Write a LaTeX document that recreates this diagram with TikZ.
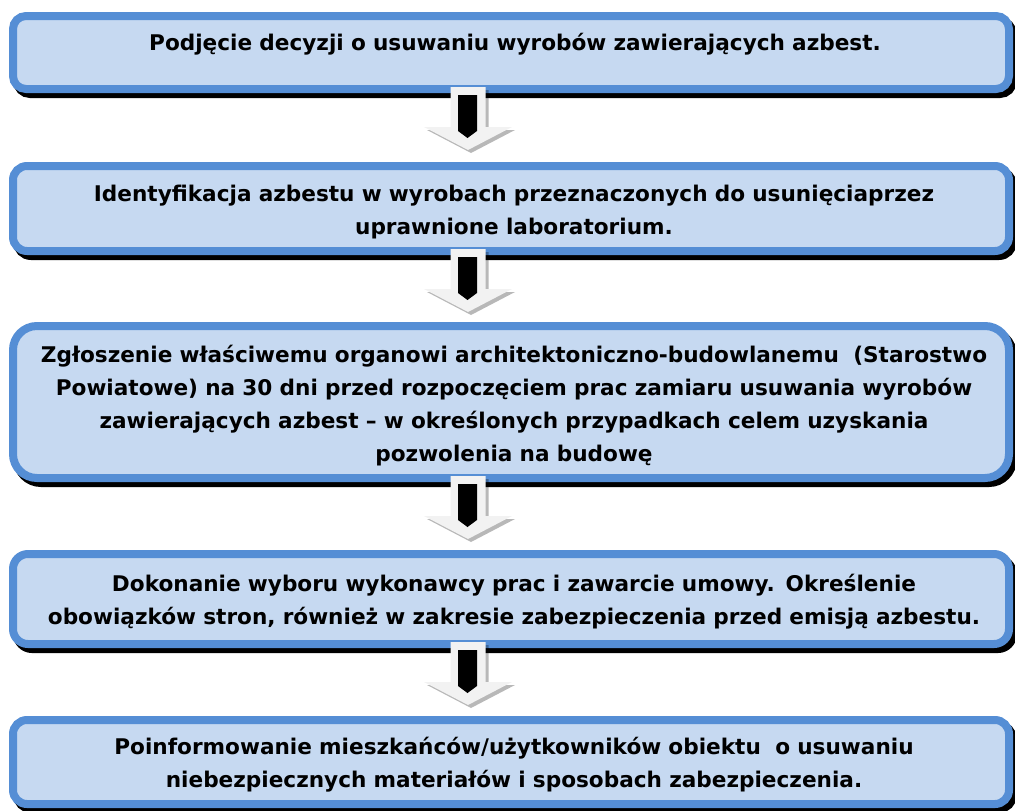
\documentclass[tikz,border=0pt]{standalone}
\usepackage{fontspec}
\setmainfont{DejaVu Sans}
\usetikzlibrary{calc}
\definecolor{boxblue}{HTML}{558ED5}
\definecolor{boxfill}{HTML}{C6D9F1}
\definecolor{arrowfill}{HTML}{F2F2F2}
\tikzset{
  stepbox/.style={rectangle, draw=boxblue, fill=boxfill, line width=8pt,
    minimum width=996pt,
    preaction={draw=black, fill=black, line width=8pt,
      transform canvas={xshift=4pt, yshift=-5pt}}},
  boxtext/.style={align=center, text width=990pt, inner sep=0pt,
    font=\fontsize{21.6}{33}\selectfont\bfseries},
  blockarrow/.pic={
    \fill[black, opacity=0.28] (-15,3) -- (20.5,3) -- (20.5,43) -- (47,43) -- (3,66) -- (-41,43) -- (-15,43) -- cycle;
    \fill[arrowfill] (-17.5,0) -- (17.5,0) -- (17.5,40) -- (44,40) -- (0,63) -- (-44,40) -- (-17.5,40) -- cycle;
    \fill[black] (-10,8) -- (9,8) -- (9,44) -- (-0.5,51) -- (-10,44) -- cycle;
  }
}
\begin{document}
\begin{tikzpicture}[x=1pt, y=-1pt]
\useasboundingbox (0,0) rectangle (1015,811);
\coordinate (ax) at (468,0);
\node[stepbox, minimum height=73pt, rounded corners=13pt] (b1) at (511,52.5) {};
\node[stepbox, minimum height=85pt, rounded corners=14pt] (b2) at (511,208.5) {};
\node[stepbox, minimum height=152pt, rounded corners=24pt] (b3) at (511,402) {};
\node[stepbox, minimum height=90pt, rounded corners=15pt] (b4) at (511,599) {};
\node[stepbox, minimum height=84pt, rounded corners=14pt] (b5) at (511,762) {};
\node[boxtext] (t1) at ($(b1.center)+(4,-8)$)
  {Podjęcie decyzji o usuwaniu wyrobów zawierających azbest.};
\node[boxtext] (t2) at ($(b2.center)+(3,4)$)
  {Identyfikacja azbestu w wyrobach przeznaczonych do usunięciaprzez\\ uprawnione laboratorium.};
\node[boxtext] (t3) at ($(b3.center)+(3,4)$)
  {Zgłoszenie właściwemu organowi architektoniczno-budowlanemu\ \ (Starostwo\\ Powiatowe) na 30 dni przed rozpoczęciem prac zamiaru usuwania wyrobów\\ zawierających azbest – w określonych przypadkach celem uzyskania\\ pozwolenia na budowę};
\node[boxtext] (t4) at ($(b4.center)+(3,3)$)
  {Dokonanie wyboru wykonawcy prac i zawarcie umowy. Określenie\\ obowiązków stron, również w zakresie zabezpieczenia przed emisją azbestu.};
\node[boxtext] (t5) at ($(b5.center)+(3,3)$)
  {Poinformowanie mieszkańców/użytkowników obiektu\ \ o usuwaniu\\ niebezpiecznych materiałów i sposobach zabezpieczenia.};
\pic at ($(b1.south -| ax)+(0,-6)$) {blockarrow};
\pic at ($(b2.south -| ax)+(0,-6)$) {blockarrow};
\pic at ($(b3.south -| ax)+(0,-6)$) {blockarrow};
\pic at ($(b4.south -| ax)+(0,-6)$) {blockarrow};
\end{tikzpicture}
\end{document}
